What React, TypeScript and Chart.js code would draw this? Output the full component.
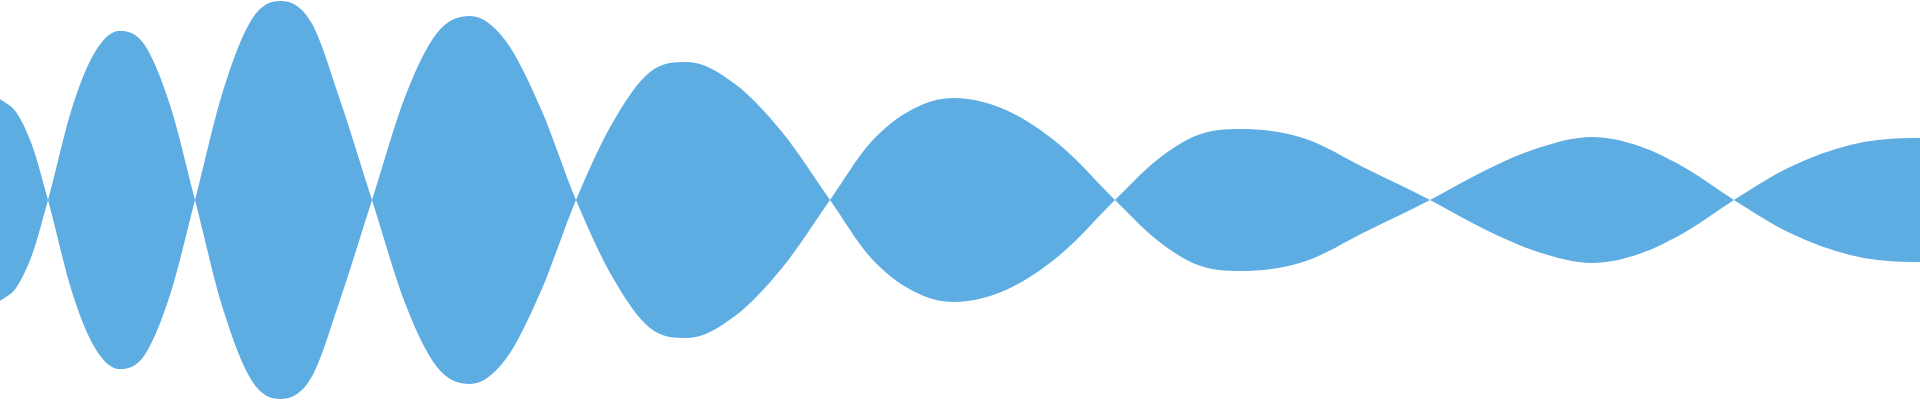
import React, { useEffect, useRef } from 'react';
import { Chart, registerables, ChartConfiguration } from 'chart.js';

Chart.register(...registerables);

// sample times (0..96): crests, shoulders and zero crossings of the waveform
const times: number[] = [
  0, 0.8, 1.6, 2.4,
  3.6, 4.75, 5.95, 7.2, 8.5, 9.75,
  11.15, 12.6, 14, 15.55, 17.05, 18.6,
  20.25, 21.85, 23.5, 25.25, 27.05, 28.8,
  30.65, 32.5, 34.35, 36.75, 39.1, 41.5,
  43.55, 45.65, 47.7, 50.4, 53.05, 55.75,
  57.85, 59.9, 62, 65.15, 68.35, 71.5,
  74.2, 76.9, 79.6, 81.95, 84.35, 86.7,
  89.5, 92.5, 95.5, 96,
];

// signed amplitude at each sample time
const amplitude: number[] = [
  50.5, 44, 27.5, 0,
  -46, -74, -84.5, -78, -47.5, 0,
  54.5, 90.5, 99.5, 89, 48.5, 0,
  -51.5, -83.5, -92, -80, -45.5, 0,
  39, 64, 69, 58, 34, 0,
  -29, -45.5, -51, -44.5, -27, 0,
  20, 32.5, 35.5, 31, 15.5, 0,
  -14.5, -26, -31.5, -27, -15.5, 0,
  16.5, 27.5, 31, 31,
];

const waveColor = '#5DADE2';

export default function App() {
  const chartRef = useRef<HTMLCanvasElement | null>(null);

  useEffect(() => {
    if (!chartRef.current) return;
    const ctx = chartRef.current.getContext('2d');
    if (!ctx) return;

    const upper = times.map((t, i) => ({ x: t, y: amplitude[i] }));
    const lower = times.map((t, i) => ({ x: t, y: -amplitude[i] }));

    const wave = (points: { x: number; y: number }[]) => ({
      data: points,
      borderWidth: 0,
      borderColor: waveColor,
      backgroundColor: waveColor,
      pointRadius: 0,
      fill: 'origin' as const,
      cubicInterpolationMode: 'monotone' as const,
    });

    const config: ChartConfiguration<'line'> = {
      type: 'line',
      data: {
        datasets: [wave(upper), wave(lower)],
      },
      options: {
        animation: false,
        responsive: true,
        maintainAspectRatio: false,
        layout: { padding: 0 },
        plugins: {
          legend: { display: false },
          tooltip: { enabled: false },
        },
        scales: {
          x: { type: 'linear', min: 0, max: 96, display: false },
          y: { min: -100, max: 100, display: false },
        },
      },
    };

    const chartInstance = new Chart(ctx, config);
    return () => {
      chartInstance.destroy();
    };
  }, []);

  return (
    <div style={{ position: 'fixed', left: 0, top: 0, width: '1920px', height: '400px', background: '#fff' }}>
      <canvas ref={chartRef} />
    </div>
  );
}
